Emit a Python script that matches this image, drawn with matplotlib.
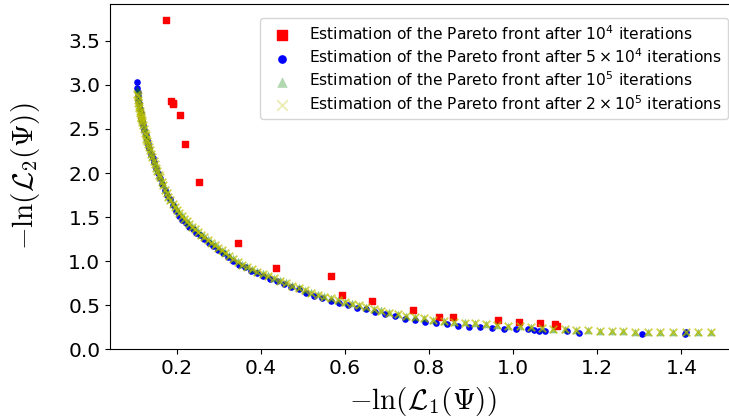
import numpy as np
import matplotlib
matplotlib.use('Agg')
import matplotlib.pyplot as plt

# Pareto front estimates

# after 10^4 iterations
red_x = [0.175, 0.187, 0.19, 0.192, 0.207, 0.22, 0.254, 0.345, 0.436, 0.568, 0.593,
         0.664, 0.761, 0.824, 0.856, 0.965, 1.013, 1.063, 1.10, 1.103]
red_y = [3.744, 2.816, 2.79, 2.78, 2.657, 2.33, 1.893, 1.204, 0.919, 0.832, 0.616,
         0.55, 0.448, 0.368, 0.368, 0.33, 0.311, 0.296, 0.288, 0.258]

# after 5 x 10^4 iterations
blue_x = [0.105, 0.106, 0.107, 0.108, 0.109, 0.110, 0.112, 0.114, 0.116, 0.118, 0.120,
          0.123, 0.126, 0.129, 0.132, 0.135, 0.139, 0.143, 0.147, 0.151, 0.156, 0.161,
          0.166, 0.172, 0.178, 0.184, 0.191, 0.198, 0.205, 0.213, 0.221, 0.229, 0.238,
          0.247, 0.256, 0.266, 0.276, 0.287, 0.298, 0.310, 0.322, 0.335, 0.348, 0.362,
          0.376, 0.391, 0.406, 0.422, 0.438, 0.455, 0.472, 0.490, 0.508, 0.527, 0.546,
          0.566, 0.586, 0.607, 0.628, 0.650, 0.672, 0.695, 0.718, 0.742, 0.766, 0.791,
          0.816, 0.842, 0.868, 0.895, 0.922, 0.950, 0.978, 1.006, 1.034, 1.050, 1.062,
          1.075, 1.128, 1.156, 1.306, 1.409, 1.411]
blue_y = [3.03, 2.97, 2.92, 2.87, 2.83, 2.79, 2.73, 2.68, 2.63, 2.59, 2.55,
          2.49, 2.43, 2.38, 2.33, 2.28, 2.22, 2.17, 2.12, 2.06, 2.00, 1.94,
          1.88, 1.81, 1.75, 1.70, 1.64, 1.57, 1.51, 1.47, 1.43, 1.39, 1.36,
          1.32, 1.29, 1.25, 1.21, 1.17, 1.13, 1.09, 1.05, 1.00, 0.96, 0.93,
          0.89, 0.86, 0.83, 0.80, 0.77, 0.74, 0.71, 0.68, 0.635, 0.605, 0.58,
          0.55, 0.52, 0.495, 0.47, 0.45, 0.425, 0.40, 0.38, 0.345, 0.325, 0.31,
          0.295, 0.28, 0.265, 0.252, 0.245, 0.238, 0.232, 0.228, 0.222, 0.218, 0.21,
          0.20, 0.20, 0.182, 0.175, 0.175, 0.198]

# after 10^5 and 2 x 10^5 iterations (same front, slightly different y)
front_x = [0.106, 0.107, 0.108, 0.109, 0.110, 0.111, 0.112, 0.113, 0.114, 0.115, 0.116,
           0.117, 0.118, 0.120, 0.122, 0.124, 0.126, 0.128, 0.130, 0.132, 0.134, 0.136,
           0.139, 0.142, 0.145, 0.148, 0.151, 0.154, 0.157, 0.160, 0.164, 0.168, 0.172,
           0.176, 0.180, 0.185, 0.190, 0.195, 0.200, 0.206, 0.212, 0.218, 0.224, 0.230,
           0.237, 0.244, 0.251, 0.258, 0.266, 0.274, 0.282, 0.290, 0.298, 0.307, 0.316,
           0.325, 0.335, 0.345, 0.356, 0.367, 0.379, 0.392, 0.405, 0.418, 0.431, 0.445,
           0.460, 0.475, 0.490, 0.505, 0.520, 0.535, 0.551, 0.567, 0.583, 0.600, 0.617,
           0.634, 0.651, 0.668, 0.686, 0.705, 0.725, 0.745, 0.766, 0.788, 0.810, 0.835,
           0.860, 0.885, 0.910, 0.936, 0.962, 0.988, 1.015, 1.042, 1.068, 1.094, 1.122,
           1.150, 1.178, 1.206, 1.234, 1.262, 1.290, 1.320, 1.350, 1.380, 1.410, 1.440,
           1.470]
y_1e5 = [2.96, 2.92, 2.88, 2.84, 2.80, 2.77, 2.74, 2.71, 2.69, 2.66, 2.64,
         2.62, 2.60, 2.56, 2.52, 2.48, 2.44, 2.41, 2.38, 2.34, 2.31, 2.27,
         2.23, 2.19, 2.15, 2.11, 2.07, 2.03, 1.99, 1.96, 1.91, 1.87, 1.82,
         1.78, 1.74, 1.70, 1.66, 1.62, 1.59, 1.56, 1.52, 1.49, 1.46, 1.43,
         1.40, 1.37, 1.34, 1.31, 1.28, 1.25, 1.22, 1.19, 1.16, 1.13, 1.10,
         1.07, 1.03, 1.00, 0.97, 0.94, 0.91, 0.89, 0.86, 0.84, 0.81, 0.78,
         0.76, 0.73, 0.70, 0.67, 0.65, 0.62, 0.60, 0.58, 0.56, 0.54, 0.52,
         0.50, 0.48, 0.46, 0.44, 0.42, 0.40, 0.38, 0.365, 0.35, 0.335, 0.322,
         0.312, 0.302, 0.294, 0.285, 0.275, 0.266, 0.257, 0.248, 0.240, 0.232, 0.225,
         0.218, 0.212, 0.207, 0.203, 0.200, 0.199, 0.198, 0.198, 0.197, 0.197, 0.197,
         0.197]
y_2e5 = [2.90, 2.87, 2.83, 2.79, 2.76, 2.74, 2.71, 2.68, 2.66, 2.64, 2.62,
         2.60, 2.58, 2.54, 2.50, 2.46, 2.43, 2.39, 2.36, 2.33, 2.29, 2.26,
         2.22, 2.18, 2.14, 2.10, 2.06, 2.02, 1.98, 1.95, 1.90, 1.86, 1.81,
         1.77, 1.73, 1.69, 1.65, 1.61, 1.58, 1.55, 1.51, 1.48, 1.45, 1.42,
         1.39, 1.36, 1.33, 1.30, 1.27, 1.24, 1.21, 1.18, 1.15, 1.12, 1.09,
         1.06, 1.02, 0.99, 0.96, 0.93, 0.905, 0.88, 0.855, 0.83, 0.805, 0.775,
         0.75, 0.72, 0.695, 0.665, 0.64, 0.615, 0.595, 0.575, 0.555, 0.535, 0.515,
         0.495, 0.475, 0.455, 0.435, 0.415, 0.395, 0.377, 0.362, 0.347, 0.333, 0.32,
         0.31, 0.30, 0.292, 0.283, 0.274, 0.265, 0.256, 0.247, 0.239, 0.231, 0.224,
         0.217, 0.211, 0.206, 0.202, 0.200, 0.198, 0.198, 0.197, 0.197, 0.196, 0.196,
         0.196]

labels = [r'Estimation of the Pareto front after $10^4$ iterations',
          r'Estimation of the Pareto front after $5\times10^4$ iterations',
          r'Estimation of the Pareto front after $10^5$ iterations',
          r'Estimation of the Pareto front after $2\times10^5$ iterations']

fig = plt.figure(figsize=(7.29, 4.19), dpi=100)
# axes run a bit past the right edge, like the cropped original
ax = fig.add_axes([0.151, 0.167, 0.8588, 0.8234])

ax.scatter(red_x, red_y, marker='s', color='r', s=22, label=labels[0], zorder=2)
ax.scatter(blue_x, blue_y, marker='o', color='b', s=14, label=labels[1], zorder=3)
ax.scatter(front_x, y_1e5, marker='^', color='g', s=30, alpha=0.45, linewidths=0,
           label=labels[2], zorder=4)
ax.scatter(front_x, y_2e5, marker='x', color='y', s=30, alpha=0.7, linewidths=1.3,
           label=labels[3], zorder=5)

ax.set_xlim(0.0416, 1.53)
ax.set_ylim(0, 3.92)
ax.set_xticks(np.arange(0.2, 1.41, 0.2))
ax.set_yticks(np.arange(0, 3.51, 0.5))
ax.tick_params(labelsize=14.5)

ax.set_xlabel(r'$-\ln(\mathcal{L}_1(\boldsymbol{\Psi}))$', fontsize=21,
              math_fontfamily='cm', labelpad=5)
ax.set_ylabel(r'$-\ln(\mathcal{L}_2(\boldsymbol{\Psi}))$', fontsize=21,
              math_fontfamily='cm', labelpad=19)

leg = ax.legend(loc='upper right', bbox_to_anchor=(1.0, 0.983), fontsize=11.15,
                markerscale=1.4, labelspacing=0.3)
for h in leg.legend_handles[2:]:
    h.set_alpha(0.3)

fig.savefig('out.png', dpi=100)
